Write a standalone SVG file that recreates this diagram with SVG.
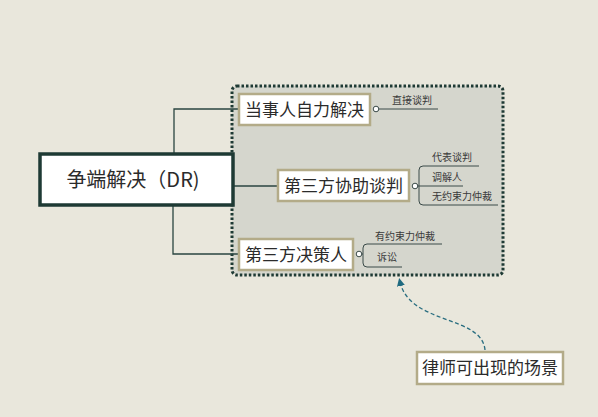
<svg xmlns="http://www.w3.org/2000/svg" width="598" height="417" viewBox="0 0 598 417">
<defs>
<style>
.t{font-family:"Noto Sans CJK SC","Noto Sans",sans-serif;fill:#2b2b2b}
.big{font-size:17px}
.sm{font-size:10px;fill:#3a3a3a}
.box{fill:#ffffff;stroke:#b3ab88;stroke-width:2.5}
.conn{fill:none;stroke:#2a4540;stroke-width:1.3}
.br{fill:none;stroke:#3a4a48;stroke-width:1}
.dot{fill:#ffffff;stroke:#3a4a48;stroke-width:1}
</style>
<marker id="ah" markerWidth="8" markerHeight="8" refX="4" refY="4" orient="auto" markerUnits="userSpaceOnUse">
<path d="M0,0 L8,4 L0,8 Z" fill="#1f6a80"/>
</marker>
</defs>
<rect width="598" height="417" fill="#e9e7dc"/>
<g id="scope">
<rect x="232" y="86" width="271" height="189" rx="5" fill="#d5d6cd" stroke="#1e3a34" stroke-width="3" stroke-dasharray="2.5 2"/>
</g>
<g id="connectors">
<path class="conn" d="M174,153 V109 H238"/>
<path class="conn" d="M173,206 V254 H238"/>
<path class="conn" d="M234,186 H277"/>
<path class="br" d="M376,109 H438"/>
<path class="br" d="M479,166 H423 Q419,166 419,170 V201 Q419,205 423,205 H498"/>
<path class="br" d="M415,186 H463"/>
<path class="br" d="M442,244 H367 Q363,244 363,248 V263 Q363,267 367,267 H402"/>
<path class="br" d="M359,254 H363"/>
<circle class="dot" cx="376" cy="109" r="2.8"/>
<circle class="dot" cx="415" cy="186" r="2.8"/>
<circle class="dot" cx="359" cy="254" r="2.8"/>
<path d="M485,350 C482,315 410,325 400,282" fill="none" stroke="#2a6e80" stroke-width="1.3" stroke-dasharray="4 2.5" marker-end="url(#ah)"/>
</g>
<g id="root">
<rect x="40" y="154" width="193" height="51" fill="#ffffff" stroke="#1e3a34" stroke-width="3.5"/>
<text class="t" x="133" y="187" font-size="20" text-anchor="middle">争端解决（DR)</text>
</g>
<g id="n1">
<rect class="box" x="239" y="94" width="131" height="31"/>
<text class="t big" x="304.5" y="115.5" text-anchor="middle">当事人自力解决</text>
</g>
<g id="n1a"><text class="t sm" x="392" y="104">直接谈判</text></g>
<g id="n2">
<rect class="box" x="278" y="170" width="131" height="31"/>
<text class="t big" x="343.5" y="191.5" text-anchor="middle">第三方协助谈判</text>
</g>
<g id="n2a"><text class="t sm" x="432" y="161">代表谈判</text></g>
<g id="n2b"><text class="t sm" x="432" y="181">调解人</text></g>
<g id="n2c"><text class="t sm" x="432" y="200">无约束力仲裁</text></g>
<g id="n3">
<rect class="box" x="239" y="239" width="114" height="31"/>
<text class="t big" x="296" y="260.5" text-anchor="middle">第三方决策人</text>
</g>
<g id="n3a"><text class="t sm" x="375" y="240">有约束力仲裁</text></g>
<g id="n3b"><text class="t sm" x="377" y="261">诉讼</text></g>
<g id="note">
<rect class="box" x="417" y="352" width="146" height="32"/>
<text class="t big" x="490" y="374" text-anchor="middle">律师可出现的场景</text>
</g>
</svg>
